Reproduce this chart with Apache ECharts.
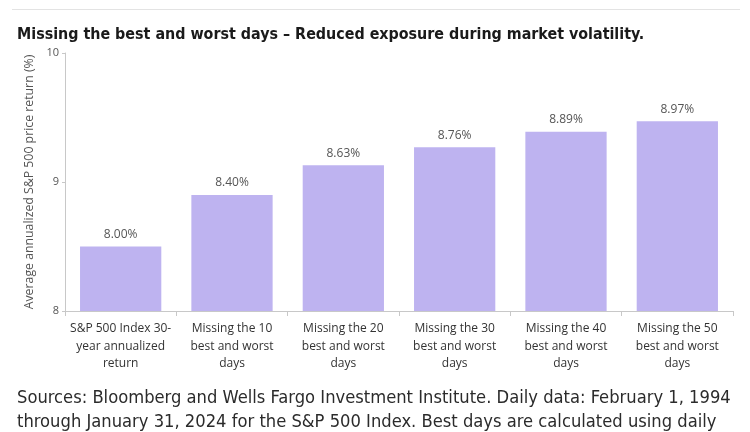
<!DOCTYPE html>
<html><head><meta charset="utf-8">
<script src="https://cdn.jsdelivr.net/npm/echarts@6/dist/echarts.min.js"></script>
<style>html,body{margin:0;padding:0;background:#fff}#c{width:750px;height:432px}</style>
</head><body><div id="c"></div>
<script>
const categories = [
  "S&P 500 Index 30-\nyear annualized\nreturn",
  "Missing the 10\nbest and worst\ndays",
  "Missing the 20\nbest and worst\ndays",
  "Missing the 30\nbest and worst\ndays",
  "Missing the 40\nbest and worst\ndays",
  "Missing the 50\nbest and worst\ndays"
];
// bar heights as drawn in the reference (axis units)
const barHeights = [8.50, 8.90, 9.13, 9.27, 9.39, 9.47];
// value labels as printed above the bars
const valueLabels = ["8.00%", "8.40%", "8.63%", "8.76%", "8.89%", "8.97%"];
const yTicks = { min: 8, max: 10, interval: 1 };

const chart = echarts.init(document.getElementById('c'), null, {renderer: 'canvas'});
const font = "'Open Sans', 'Noto Sans', sans-serif";
const narrow = "'DejaVu Sans Condensed', 'Open Sans', sans-serif";
chart.setOption({
  animation: false,
  backgroundColor: '#fff',
  title: [
    { text: 'Missing the best and worst days – Reduced exposure during market volatility.',
      left: 12, top: 22,
      textStyle: { fontFamily: narrow, fontSize: 15.9, fontWeight: 'bold', color: '#1a1a1a' } },
    { text: 'Sources: Bloomberg and Wells Fargo Investment Institute. Daily data: February 1, 1994\nthrough January 31, 2024 for the S&P 500 Index. Best days are calculated using daily',
      left: 12, top: 381,
      textStyle: { fontFamily: narrow, fontSize: 18.2, fontWeight: 400, color: '#2b2b2b', lineHeight: 24 } }
  ],
  graphic: [
    { type: 'line', shape: { x1: 12, y1: 9.5, x2: 740, y2: 9.5 }, style: { stroke: '#e3e3e3', lineWidth: 1 } }
  ],
  grid: { left: 65, right: 17, top: 53, bottom: 121, containLabel: false },
  xAxis: {
    type: 'category', data: categories,
    axisLine: { lineStyle: { color: '#c8c8c8' } },
    axisTick: { show: true, length: 5, alignWithLabel: false, lineStyle: { color: '#c8c8c8' } },
    axisLabel: { interval: 0, fontFamily: font, fontSize: 12, color: '#333', lineHeight: 17.5, margin: 9 }
  },
  yAxis: {
    type: 'value', min: yTicks.min, max: yTicks.max, interval: yTicks.interval,
    name: 'Average annualized S&P 500 price return (%)',
    nameLocation: 'middle', nameGap: 25,
    nameTextStyle: { fontFamily: font, fontSize: 12.3, color: '#555' },
    axisLine: { show: true, lineStyle: { color: '#c8c8c8' } },
    axisTick: { show: true, length: 3, lineStyle: { color: '#c8c8c8' } },
    splitLine: { show: false },
    axisLabel: { fontFamily: font, fontSize: 11, color: '#555', margin: 6 }
  },
  series: [{
    type: 'bar', data: barHeights, barCategoryGap: '27%',
    itemStyle: { color: '#BEB3F0' },
    label: { show: true, position: 'top', distance: 6,
      fontFamily: font, fontSize: 12, color: '#555',
      formatter: p => valueLabels[p.dataIndex] }
  }]
});
</script></body></html>
